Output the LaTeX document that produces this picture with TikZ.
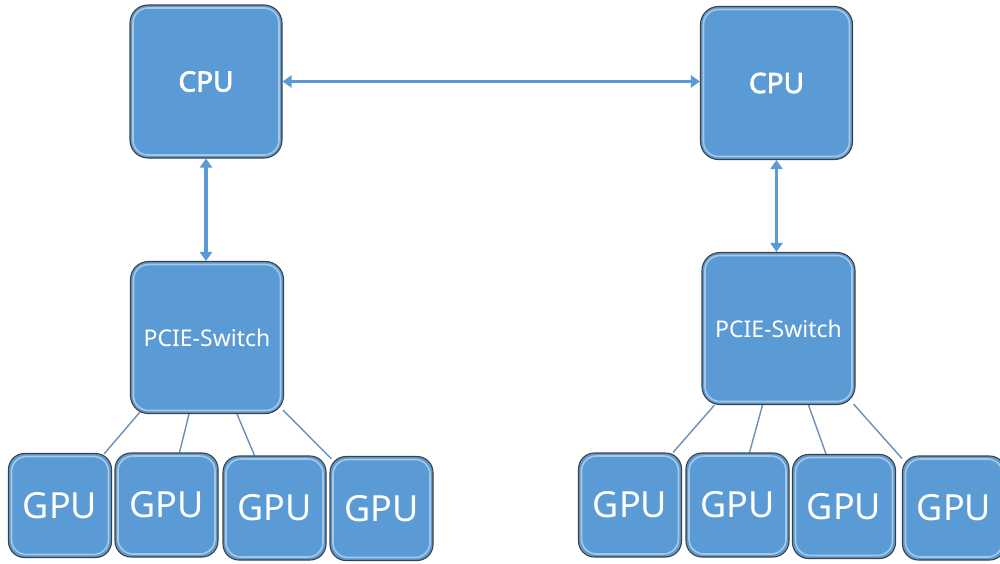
\documentclass[tikz,border=0pt]{standalone}
\usepackage{fontspec}
\setmainfont{Noto Sans}
\newfontfamily\cpufont{Noto Sans}[FakeBold=2.5]
\usepackage{tikz}
\usetikzlibrary{calc,positioning,arrows.meta,backgrounds}
\definecolor{boxblue}{HTML}{5B9BD5}
\definecolor{linkblue}{HTML}{6A8FB8}
\tikzstyle{unit}  = [rectangle, rounded corners=18pt, draw=black!75, line width=1.1pt, fill=boxblue, text=white, align=center,
  path picture={\draw[white, opacity=0.45, line width=1.6pt, rounded corners=15pt]
    ([shift={(3,3)}]path picture bounding box.north west) rectangle ([shift={(-3,-3)}]path picture bounding box.south east);}]
\tikzstyle{cpu}   = [unit, minimum width=152pt, minimum height=153pt, font=\cpufont\fontsize{28}{30}\selectfont]
\tikzstyle{sw}    = [unit, minimum width=153pt, minimum height=152pt, font=\fontsize{23}{26}\selectfont]
\tikzstyle{gpu}   = [unit, rounded corners=16pt, minimum width=103pt, minimum height=104pt, font=\fontsize{36}{38}\selectfont]
\tikzstyle{arrow} = [line width=3.4pt, boxblue, {Triangle[length=9pt,width=12pt]}-{Triangle[length=9pt,width=12pt]}]
\tikzstyle{link}  = [line width=1.4pt, linkblue]

\begin{document}
\begin{tikzpicture}[x=1pt,y=-1pt]
	\useasboundingbox (0,0) rectangle (1000,563);

	\node[cpu] (cpuL) at (206,81.5) {CPU};
	\node[cpu] (cpuR) at (776.5,83) {CPU};
	\node[sw] (swL) at (207,337.5) {PCIE-Switch};
	\node[sw] (swR) at (778.5,328.5) {PCIE-Switch};

	\node[gpu] (gpuL1) at (60,505.5) {GPU};
	\node[gpu] (gpuL2) at (166.5,505) {GPU};
	\node[gpu] (gpuL3) at (274.5,508) {GPU};
	\node[gpu] (gpuL4) at (381.5,508.5) {GPU};

	\node[gpu] (gpuR1) at (630,505) {GPU};
	\node[gpu] (gpuR2) at (737.5,505) {GPU};
	\node[gpu] (gpuR3) at (844,506.5) {GPU};
	\node[gpu] (gpuR4) at (954,508) {GPU};

	\draw[arrow] (cpuL.east) -- (cpuL.east -| cpuR.west);
	\draw[arrow] (cpuL.south) -- (cpuL.south |- swL.north);
	\draw[arrow] (cpuR.south) -- (cpuR.south |- swR.north);

	\begin{scope}[on background layer]
		\draw[link] ($(swL.south west)+(10,-2)$) -- ($(gpuL1.north east)+(-8,1)$);
		\draw[link] ($(swL.south)+(-18,0)$) -- ($(gpuL2.north)+(13,0)$);
		\draw[link] ($(swL.south)+(30,0)$) -- ($(gpuL3.north)+(-20,0)$);
		\draw[link] ($(swL.south east)+(-1,-4)$) -- ($(gpuL4.north west)+(2,3)$);

		\draw[link] ($(swR.south west)+(13,0)$) -- ($(gpuR1.north east)+(-9,0)$);
		\draw[link] ($(swR.south)+(-16,0)$) -- ($(gpuR2.north)+(12,0)$);
		\draw[link] ($(swR.south)+(30,0)$) -- ($(gpuR3.north)+(-18,0)$);
		\draw[link] ($(swR.south east)+(-2,-1)$) -- ($(gpuR4.north west)+(0,3)$);
	\end{scope}
\end{tikzpicture}
\end{document}
